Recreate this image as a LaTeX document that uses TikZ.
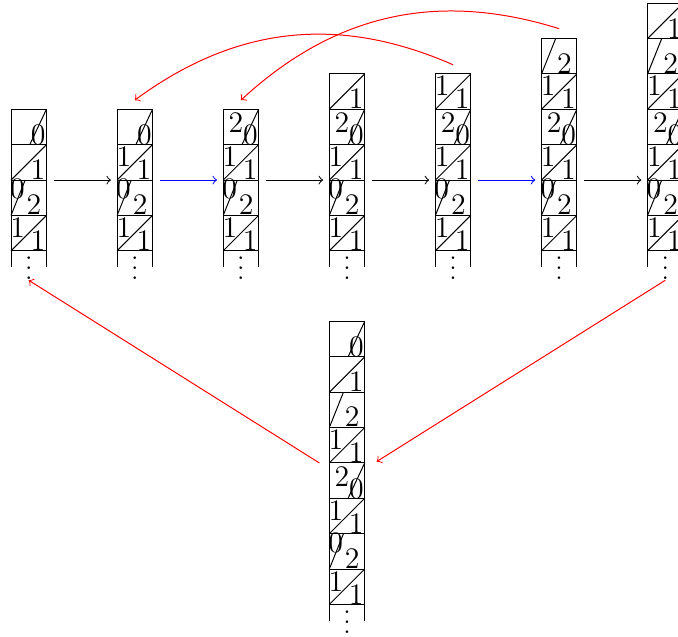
\documentclass[tikz,border=0pt]{standalone}
\tikzset{
    lab/.style={inner sep=0pt, font=\fontsize{12}{14.5}\selectfont},
    dotsnode/.style={anchor=base, inner sep=0pt},
    link/.style={->, red},
}
\newcommand\Cell[5]{%
    \draw (#2,#3) rectangle ++(0.5,0.5);%
    \ifcase#5
        \draw (#2+0.265,#3) -- ++(0.235,0.5);%
        \node[lab] (#1-t) at (#2+0.18,#3+0.31) {#4};%
        \node[lab] (#1-b) at (#2+0.385,#3+0.135) {#5};%
    \or
        \draw (#2,#3) -- ++(0.5,0.5);%
        \node[lab] (#1-t) at (#2+0.095,#3+0.33) {#4};%
        \node[lab] (#1-b) at (#2+0.38,#3+0.145) {#5};%
    \or
        \draw (#2,#3) -- ++(0.2,0.5);%
        \node[lab] (#1-t) at (#2+0.09,#3+0.37) {#4};%
        \node[lab] (#1-b) at (#2+0.325,#3+0.15) {#5};%
    \fi
}
\newcommand\Column[4]{%
    \foreach \tp/\bt [count=\k] in {#4} {
        \Cell{#1-\k}{#2}{#3+0.5*\k-0.5}{\tp}{\bt}
    }
    \draw (#2,#3) -- ++(0,-0.23) (#2+0.5,#3) -- ++(0,-0.23);
    \node[dotsnode] (#1-dots) at (#2+0.25,#3-0.41) {$\vdots$};
}
\begin{document}
\begin{tikzpicture}
\useasboundingbox (-0.156,-6.45) rectangle (9.43,2.546);
\Column{c1}{0}{-1}{1/1,0/2,/1,/0}
\Column{c2}{1.5}{-1}{1/1,0/2,1/1,/0}
\Column{c3}{3}{-1}{1/1,0/2,1/1,2/0}
\Column{c4}{4.5}{-1}{1/1,0/2,1/1,2/0,/1}
\Column{c5}{6}{-1}{1/1,0/2,1/1,2/0,1/1}
\Column{c6}{7.5}{-1}{1/1,0/2,1/1,2/0,1/1,/2}
\Column{c7}{9}{-1}{1/1,0/2,1/1,2/0,1/1,/2,/1}
\Column{bc}{4.5}{-6}{1/1,0/2,1/1,2/0,1/1,/2,/1,/0}

\foreach \i in {1,...,7} {
    \coordinate (c\i-w) at (1.5*\i-1.5,0);
    \coordinate (c\i-e) at (1.5*\i-1,0);
}
\coordinate (c2-n) at (1.75,1.13);
\coordinate (c3-n) at (3.25,1.13);
\coordinate (c5-n) at (6.25,1.63);
\coordinate (c6-n) at (7.75,2.14);
\coordinate (bc-w) at (4.36,-4);
\coordinate (bc-e) at (5.17,-3.98);

\foreach \i/\j/\c in {1/2/black,2/3/blue,3/4/black,4/5/black,5/6/blue,6/7/black}
    \draw[->, \c, shorten <=3pt, shorten >=2.5pt] (c\i-e) -- (c\j-w);

\draw[link] (c5-n) to[bend right=30] (c2-n);
\draw[link] (c6-n) to[bend right=30] (c3-n);
\draw[link] (c7-dots.south) -- (bc-e);
\draw[link] (bc-w) -- (c1-dots.south);
\end{tikzpicture}
\end{document}
